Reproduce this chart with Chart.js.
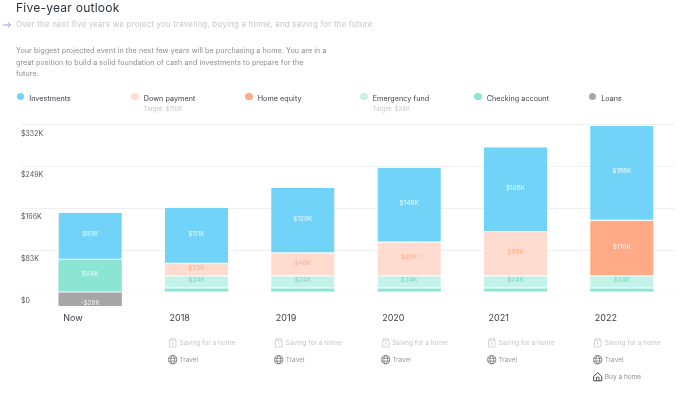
<!DOCTYPE html>
<html><head><meta charset="utf-8">
<style>
html,body{margin:0;padding:0;background:#fff;width:680px;height:394px;overflow:hidden;font-family:Inter,"Noto Sans",sans-serif}
#wrap{position:relative;width:680px;height:394px}
canvas{position:absolute;left:0;top:0}
.t{position:absolute;white-space:nowrap}
svg{position:absolute;overflow:visible}
</style></head><body>
<div id="wrap"><canvas id="c" width="680" height="394"></canvas><div id="overlay"></div></div>
<script src="https://cdn.jsdelivr.net/npm/chart.js@4/dist/chart.umd.min.js"></script>
<script>
const categories=["Now","2018","2019","2020","2021","2022"];
const checking=[64,7,7,7,7,7];
const emergency=[null,24,24,24,24,24];
const downPayment=[null,25,46,67,88,null];
const homeEquity=[null,null,null,null,null,110];
const investments=[93,111,129,148,168,188];
const loans=[-28,null,null,null,null,null];
const tickValues=[0,83,166,249,332];
const legendNames=["Investments","Down payment","Home equity","Emergency fund","Checking account","Loans"];
const legendTargets=["","Target: $110K","","Target: $24K","",""];
const legendColors=["#72d3f8","#ffdccf","#ffaa86","#c4f1e8","#8ce5d3","#a6a6a6"];
const events=[[],["Saving for a home","Travel"],["Saving for a home","Travel"],["Saving for a home","Travel"],["Saving for a home","Travel"],["Saving for a home","Travel","Buy a home"]];
const titleText="Five-year outlook";
const subtitleText="Over the next five years we project you traveling, buying a home, and saving for the future";
const bodyLines=["Your biggest projected event in the next few years will be purchasing a home. You are in a","great position to build a solid foundation of cash and investments to prepare for the","future."];

const fmt=v=>(v<0?"-$":"$")+Math.abs(v)+"K";
const mk=(label,data,color,textColor,gap)=>({label,data,backgroundColor:color,borderColor:"#fff",borderWidth:{top:0,bottom:gap,left:0,right:0},borderSkipped:false,labelColor:textColor,stack:"s"});

const valueLabels={id:"valueLabels",afterDatasetsDraw(chart){
  const ctx=chart.ctx;ctx.save();
  ctx.font='400 6.5px Inter';ctx.textAlign="center";ctx.textBaseline="middle";
  chart.data.datasets.forEach((ds,i)=>{
    chart.getDatasetMeta(i).data.forEach((el,j)=>{
      const v=ds.data[j];if(v==null||Math.abs(v)<10)return;
      const p=el.getProps(["x","y","base"],true);
      const y=(p.y+p.base)/2+(v<0?3.5:-2);
      ctx.fillStyle=ds.labelColor;ctx.fillText(fmt(v),p.x,y);
    });
  });
  ctx.restore();
}};

const chart=new Chart(document.getElementById("c"),{
  type:"bar",
  data:{labels:categories,datasets:[
    mk("Checking account",checking,legendColors[4],"rgba(255,255,255,.85)",0),
    mk("Emergency fund",emergency,legendColors[3],"#6fdcc6",1),
    mk("Down payment",downPayment,legendColors[1],"#ffab88",1),
    mk("Home equity",homeEquity,legendColors[2],"rgba(255,255,255,.85)",1),
    mk("Investments",investments,legendColors[0],"rgba(255,255,255,.85)",1),
    mk("Loans",loans,legendColors[5],"rgba(255,255,255,.85)",0)
  ]},
  options:{
    responsive:false,animation:false,
    layout:{padding:{left:21,right:5,top:124.5,bottom:0}},
    datasets:{bar:{categoryPercentage:1,barPercentage:0.596}},
    plugins:{legend:{display:false},title:{display:false},tooltip:{enabled:false}},
    scales:{
      x:{stacked:true,
        afterFit(s){s.height=86.9},
        grid:{display:false},border:{display:false},
        ticks:{align:"start",labelOffset:-27,padding:-2,autoSkip:false,maxRotation:0,color:"#3c3c44",font:{family:"Inter",size:9}}},
      y:{stacked:true,min:-30,max:332,
        afterFit(s){s.width=16},
        afterBuildTicks(s){s.ticks=tickValues.map(value=>({value}))},
        grid:{color:"#f0f0f2",tickColor:"#f0f0f2",tickLength:16,lineWidth:1,
          tickBorderDash:c=>c.tick&&c.tick.value===0?[1,2]:[]},
        border:{display:false,dash:c=>c.tick&&c.tick.value===0?[1,2]:[]},
        ticks:{mirror:true,crossAlign:"near",labelOffset:9,padding:-16,color:"#55555c",font:{family:"Inter",size:7},
          callback:v=>v===0?"$0":"$"+v+"K"}}
    }
  },
  plugins:[valueLabels]
});

const ov=document.getElementById("overlay");
function text(s,x,cy,size,color,weight,ls){
  const d=document.createElement("div");d.className="t";d.textContent=s;
  d.style.cssText=`left:${x}px;top:${cy-10}px;line-height:20px;font-size:${size}px;color:${color};font-weight:${weight||400};letter-spacing:${ls||0}px`;
  ov.appendChild(d);
}
function svg(x,y,inner){
  ov.insertAdjacentHTML("beforeend",`<svg style="left:${x}px;top:${y}px" width="10" height="10" viewBox="0 0 10 10" fill="none">${inner}</svg>`);
}
text(titleText,16,8,12.1,"#2f3340",400,0.2);
text(subtitleText,16,24,7.95,"#c6c6cc",400,0.2);
bodyLines.forEach((l,i)=>text(l,16,51+i*11.6,7.2,"#8d8d93",400,0.06));
svg(3,20,'<path d="M0 5H7.5M5 2.6L7.5 5L5 7.4" stroke="#8f90f2" stroke-width="0.9"/>');

const legendX=[20.5,135,249,364,478,592.5];
legendNames.forEach((n,i)=>{
  ov.insertAdjacentHTML("beforeend",`<div style="position:absolute;left:${legendX[i]-3.8}px;top:92.7px;width:7.6px;height:7.6px;border-radius:50%;background:${legendColors[i]}"></div>`);
  text(n,legendX[i]+8.7,98.5,7.2,"#3c3c46",400,0.05);
  if(legendTargets[i])text(legendTargets[i],legendX[i]+8.7,108.5,6,"#c8c8cc",400,0.05);
});

const jar='<path d="M1.5 2.2H8V9H1.5ZM2.3 2.2V0.7H7.2V2.2" stroke="#c4c4c8" stroke-width="0.7"/><path d="M4.7 4V7" stroke="#c4c4c8" stroke-width="0.8"/>';
const globe='<circle cx="4.7" cy="4.7" r="4.1" stroke="#55555c" stroke-width="0.7"/><ellipse cx="4.7" cy="4.7" rx="1.9" ry="4.1" stroke="#55555c" stroke-width="0.6"/><path d="M0.8 3.3H8.6M0.8 6.1H8.6" stroke="#55555c" stroke-width="0.6"/>';
const house='<path d="M0.7 4.3L4.7 0.7L8.7 4.3V8.8H0.7Z" stroke="#33333a" stroke-width="0.9"/><path d="M3.4 8.8V5.2H6V8.8" stroke="#33333a" stroke-width="0.8"/>';
const eventIcon={"Saving for a home":jar,"Travel":globe,"Buy a home":house};
const eventColor={"Saving for a home":"#c6c6ca","Travel":"#9a9a9e","Buy a home":"#8f8f94"};
const evY=[343,360,377];
const xs=categories.map((_,i)=>chart.scales.x.getPixelForTick(i));
events.forEach((list,i)=>list.forEach((e,j)=>{
  const left=xs[i]-28.5;
  svg(left,evY[j]-5,eventIcon[e]);
  text(e,left+11.5,evY[j],6.5,eventColor[e],400,0);
}));
</script></body></html>
